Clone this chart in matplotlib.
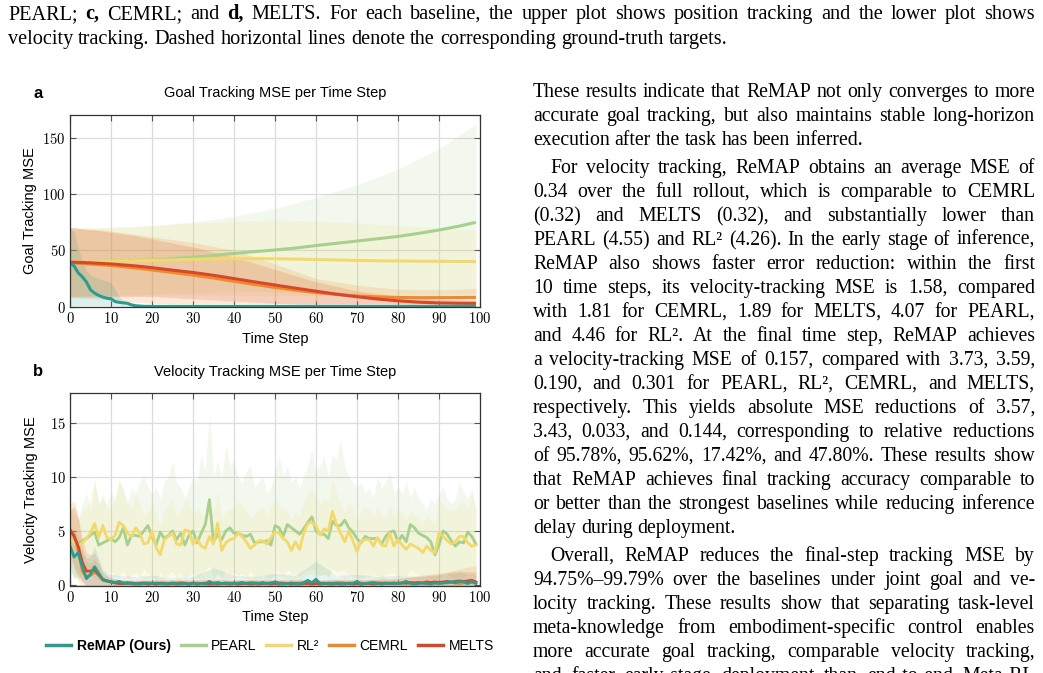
import matplotlib
matplotlib.use("Agg")
import matplotlib.pyplot as plt
from matplotlib.lines import Line2D
from matplotlib.ticker import FuncFormatter
from matplotlib.transforms import IdentityTransform

W, H = 1043, 673
SERIF = ["Liberation Serif", "DejaVu Serif"]
SANS = ["Liberation Sans", "DejaVu Sans"]
plt.rcParams["mathtext.fontset"] = "cm"

TEAL   = "#2a9d8f"
GREEN  = "#a8d08d"
YELLOW = "#f3d96b"
ORANGE = "#ef8a2a"
RED    = "#d8472b"

METHODS = ["ReMAP (Ours)", "PEARL", "RL\u00b2", "CEMRL", "MELTS"]

# ── Goal tracking (panel a) ──────────────────────────────────────────────────
GOAL_T = [0, 1, 2, 3, 4, 5, 6, 7, 8, 9, 10, 11, 12, 13, 14, 15, 16, 18, 20,
          25, 30, 35, 40, 45, 50, 55, 60, 65, 70, 75, 80, 85, 90, 95, 99]
GOAL_REMAP = [39, 36, 30, 26.5, 22, 15, 12, 10, 8.5, 7.5, 7, 4.5, 3.8, 3.4, 3.0, 1.6, 0.8, 0.3, 0.2,
              0.1, 0.1, 0.1, 0.1, 0.1, 0.1, 0.1, 0.1, 0.1, 0.1, 0.1, 0.1, 0.1, 0.1, 0.1, 0.1]
GOAL_PEARL = [39.5, 39.5, 39.6, 39.7, 39.8, 39.9, 40.0, 40.1, 40.2, 40.3, 40.4, 40.5, 40.6, 40.7, 40.8,
              40.9, 41.0, 41.2, 41.5, 42.5, 43.8, 45.5, 47.2, 48.8, 50.3, 52.0, 54.2, 56.2, 58.2, 60.2,
              62.3, 65.0, 68.0, 71.5, 74.8]
GOAL_RL2 = [39.5, 39.5, 39.6, 39.6, 39.7, 39.8, 39.9, 40.0, 40.1, 40.2, 40.3, 40.3, 40.4, 40.5, 40.6,
            40.6, 40.7, 40.8, 41.0, 41.5, 42.0, 42.4, 42.6, 42.6, 42.5, 42.2, 41.8, 41.4, 41.0, 40.7,
            40.5, 40.3, 40.2, 40.1, 40.0]
GOAL_CEMRL = [39.0, 38.8, 38.5, 38.3, 38.0, 37.8, 37.5, 37.3, 37.0, 36.8, 36.5, 36.2, 35.8, 35.4, 35.0,
              34.6, 34.2, 33.4, 32.5, 30.3, 28.0, 25.4, 22.5, 19.7, 17.0, 14.6, 12.5, 10.8, 9.5, 8.7,
              8.2, 8.0, 8.0, 8.1, 8.2]
GOAL_MELTS = [39.5, 39.4, 39.3, 39.2, 39.0, 38.9, 38.7, 38.5, 38.3, 38.1, 37.9, 37.6, 37.3, 37.0, 36.7,
              36.4, 36.1, 35.4, 34.6, 32.4, 30.3, 27.8, 24.9, 22.0, 19.2, 16.4, 13.7, 11.1, 8.8, 6.8,
              5.2, 4.0, 3.3, 3.0, 2.9]

GOAL_BAND_T = [0, 1, 2, 3, 4, 5, 6, 8, 10, 11, 12, 13, 14, 16, 20, 30, 40, 50, 60, 70, 80, 90, 99]
GOAL_REMAP_HI = [70, 66, 52, 40, 32, 28, 26, 24, 21, 15, 9, 5, 3, 1, 0.5, 0.3, 0.3, 0.3, 0.3, 0.3, 0.3, 0.3, 0.3]
GOAL_REMAP_LO = [1, 1, 1, 1, 1, 1, 1, 1, 1, 0.8, 0.5, 0.3, 0.2, 0, 0, 0, 0, 0, 0, 0, 0, 0, 0]
GOAL_PEARL_HI = [69, 69, 69, 69.5, 69.5, 69.5, 69.5, 70, 70, 70, 70.5, 70.5, 70.5, 71, 72, 75, 80, 87, 97,
                 108, 122, 140, 162]
GOAL_PEARL_LO = [10, 10, 10, 10, 10, 10, 10, 10, 10.5, 10.5, 10.5, 10.5, 10.5, 10.5, 11, 12, 14, 13, 11,
                 8, 3, 0, 0]
GOAL_RL2_HI = [70, 70, 70, 70, 70.2, 70.3, 70.4, 70.6, 70.8, 70.9, 71, 71.1, 71.2, 71.4, 72, 74, 76, 77,
               76, 74, 72, 70, 68]
GOAL_RL2_LO = [9, 9, 9, 9, 9.1, 9.2, 9.3, 9.4, 9.5, 9.5, 9.6, 9.6, 9.7, 9.8, 10, 10.5, 10, 9.5, 10,
               10.5, 11, 11.5, 12]
GOAL_CEMRL_HI = [70, 70, 69.5, 69, 69, 68.5, 68.5, 68, 67, 66.5, 66, 65.5, 65, 64, 62, 57, 50, 38, 25,
                 19, 15.5, 15, 16]
GOAL_CEMRL_LO = [8, 8, 7.8, 7.6, 7.4, 7.2, 7, 6.5, 6, 5.7, 5.4, 5, 4.7, 4, 3, 0.5, 0, 0, 0, 0, 0, 0, 0]
GOAL_MELTS_HI = [70, 70, 69.5, 69, 68.5, 68.3, 68, 67, 66, 65.5, 65, 64.5, 64, 63, 60, 53, 44, 33, 22,
                 14, 9, 6.5, 5.5]
GOAL_MELTS_LO = [8.5, 8.5, 8.6, 8.6, 8.7, 8.7, 8.8, 8.9, 9, 9, 9, 9, 9, 9, 9, 7, 5, 3, 1.5, 0.5, 0.3,
                 0.3, 0.3]

# ── Velocity tracking (panel b) ──────────────────────────────────────────────
VEL_T = list(range(100))
VEL_PEARL = [4.0, 3.9, 3.8, 4.1, 4.3, 4.6, 4.9, 3.7, 3.9, 4.1,
             4.3, 4.0, 4.4, 5.3, 3.7, 4.6, 4.6, 4.5, 5.0, 5.5,
             4.5, 3.7, 4.9, 4.3, 4.6, 5.0, 4.2, 4.8, 3.7, 4.6,
             5.0, 3.9, 4.8, 5.6, 7.9, 4.0, 4.7, 4.2, 5.0, 5.3,
             4.8, 4.8, 4.6, 4.5, 4.7, 3.9, 4.0, 4.0, 4.1, 3.7,
             5.5, 5.3, 4.5, 5.6, 5.3, 5.0, 4.7, 5.2, 5.8, 6.3,
             5.0, 4.7, 4.7, 4.3, 5.9, 5.5, 5.5, 6.0, 5.3, 4.9,
             4.3, 3.9, 4.5, 4.3, 4.3, 4.3, 3.8, 4.5, 4.9, 5.0,
             4.0, 4.6, 4.0, 5.6, 5.3, 4.8, 4.6, 4.4, 4.0, 2.8,
             3.7, 5.0, 4.7, 4.1, 3.6, 4.0, 3.9, 4.9, 4.5, 3.8]
VEL_RL2 = [4.2, 3.9, 3.6, 3.9, 4.3, 4.8, 5.7, 4.4, 5.5, 4.4,
           4.2, 4.6, 5.8, 5.5, 4.8, 4.5, 5.3, 4.8, 3.8, 3.9,
           5.0, 3.5, 2.8, 4.2, 4.5, 4.8, 3.8, 3.7, 5.1, 5.0,
           3.8, 4.3, 3.6, 3.4, 4.5, 3.8, 5.7, 3.2, 3.9, 4.2,
           4.3, 4.8, 4.5, 4.0, 3.4, 3.7, 4.1, 4.1, 3.8, 4.4,
           4.9, 4.8, 4.3, 4.0, 3.2, 4.0, 3.3, 4.8, 5.7, 5.8,
           5.5, 4.6, 5.2, 5.0, 6.8, 5.6, 4.8, 4.0, 5.0, 4.1,
           3.1, 4.1, 4.2, 4.2, 3.6, 4.4, 3.7, 3.6, 4.8, 3.6,
           4.2, 3.7, 3.3, 3.8, 3.6, 3.4, 3.0, 3.6, 3.2, 3.0,
           4.8, 4.5, 4.1, 3.8, 4.0, 4.5, 4.5, 3.9, 3.6, 3.7]
VEL_REMAP = [3.6, 2.6, 3.0, 1.7, 0.6, 1.0, 1.7, 1.1, 0.5, 0.4,
             0.3, 0.25, 0.35, 0.2, 0.15, 0.2, 0.15, 0.1, 0.15, 0.2,
             0.15, 0.2, 0.15, 0.1, 0.15, 0.2, 0.15, 0.1, 0.15, 0.1,
             0.15, 0.1, 0.15, 0.1, 0.35, 0.1, 0.25, 0.15, 0.2, 0.15,
             0.15, 0.2, 0.25, 0.15, 0.2, 0.2, 0.15, 0.25, 0.15, 0.2,
             0.3, 0.15, 0.1, 0.15, 0.2, 0.1, 0.15, 0.25, 0.45, 0.2,
             0.55, 0.15, 0.2, 0.1, 0.15, 0.2, 0.15, 0.1, 0.2, 0.15,
             0.35, 0.1, 0.15, 0.2, 0.25, 0.15, 0.1, 0.15, 0.2, 0.15,
             0.15, 0.2, 0.35, 0.15, 0.1, 0.15, 0.2, 0.15, 0.1, 0.2,
             0.15, 0.2, 0.25, 0.3, 0.2, 0.35, 0.3, 0.15, 0.35, 0.16]
VEL_CEMRL = [5.0, 4.7, 3.2, 1.3, 0.8, 0.9, 1.2, 0.9, 0.45, 0.35,
             0.3, 0.25, 0.2, 0.2, 0.25, 0.2, 0.15, 0.2, 0.25, 0.2,
             0.2, 0.15, 0.2, 0.2, 0.15, 0.2, 0.2, 0.25, 0.2, 0.15,
             0.2, 0.2, 0.15, 0.2, 0.2, 0.25, 0.2, 0.15, 0.2, 0.2,
             0.2, 0.15, 0.2, 0.2, 0.25, 0.2, 0.2, 0.15, 0.2, 0.2,
             0.2, 0.25, 0.2, 0.15, 0.2, 0.2, 0.2, 0.15, 0.2, 0.25,
             0.2, 0.2, 0.15, 0.2, 0.2, 0.2, 0.25, 0.2, 0.15, 0.2,
             0.2, 0.2, 0.15, 0.2, 0.2, 0.25, 0.2, 0.2, 0.15, 0.2,
             0.2, 0.2, 0.15, 0.2, 0.25, 0.2, 0.2, 0.15, 0.2, 0.2,
             0.15, 0.2, 0.2, 0.25, 0.2, 0.15, 0.2, 0.2, 0.25, 0.19]
VEL_MELTS = [5.1, 4.5, 3.6, 2.1, 1.3, 1.3, 1.4, 1.0, 0.55, 0.4,
             0.3, 0.2, 0.15, 0.15, 0.2, 0.15, 0.1, 0.15, 0.15, 0.1,
             0.15, 0.1, 0.15, 0.15, 0.1, 0.15, 0.1, 0.15, 0.15, 0.1,
             0.15, 0.1, 0.15, 0.15, 0.1, 0.15, 0.1, 0.15, 0.15, 0.1,
             0.15, 0.1, 0.15, 0.15, 0.1, 0.15, 0.1, 0.15, 0.15, 0.1,
             0.15, 0.1, 0.15, 0.15, 0.1, 0.15, 0.1, 0.15, 0.15, 0.1,
             0.15, 0.1, 0.15, 0.15, 0.1, 0.15, 0.1, 0.15, 0.15, 0.1,
             0.15, 0.1, 0.15, 0.15, 0.1, 0.15, 0.15, 0.2, 0.15, 0.2,
             0.15, 0.2, 0.2, 0.25, 0.2, 0.25, 0.2, 0.3, 0.25, 0.3,
             0.25, 0.3, 0.35, 0.3, 0.35, 0.4, 0.35, 0.4, 0.45, 0.3]

VEL_PEARL_HI = [7.0, 6.5, 6.0, 7.5, 8.5, 7.0, 9.5, 7.5, 8.0, 7.5,
                8.5, 8.0, 9.5, 9.0, 7.5, 9.0, 8.5, 9.5, 10.0, 9.0,
                8.5, 9.0, 8.0, 9.5, 10.0, 11.5, 9.5, 9.0, 8.0, 9.0,
                10.0, 9.5, 12.0, 10.5, 16.0, 10.0, 11.5, 10.0, 13.0, 11.0,
                11.5, 10.0, 9.5, 10.5, 11.0, 9.0, 9.5, 10.0, 8.5, 9.0,
                10.5, 12.0, 10.0, 11.0, 9.5, 10.0, 9.0, 10.0, 11.0, 12.5,
                10.5, 11.0, 12.0, 10.0, 12.0, 11.5, 13.5, 11.0, 10.0, 9.5,
                9.0, 9.5, 8.5, 9.0, 8.0, 10.0, 9.0, 9.5, 10.5, 8.5,
                9.0, 8.5, 9.5, 8.0, 9.0, 8.0, 7.5, 7.0, 8.0, 7.5,
                8.5, 9.0, 8.0, 7.5, 8.0, 9.5, 8.5, 8.0, 9.0, 7.0]
VEL_PEARL_LO = [1.0, 0.8, 0.6, 0.9, 1.2, 1.0, 0.7, 0.5, 0.8, 1.1,
                1.3, 0.9, 0.7, 1.4, 0.6, 1.0, 1.2, 0.8, 1.5, 1.1,
                0.9, 0.5, 1.2, 0.8, 1.0, 1.3, 0.7, 1.1, 0.5, 0.9,
                1.2, 0.6, 1.0, 1.4, 1.8, 0.7, 1.1, 0.8, 1.3, 1.0,
                1.2, 0.9, 1.1, 0.8, 1.3, 0.6, 0.8, 1.0, 0.7, 0.5,
                1.4, 1.2, 0.9, 1.5, 1.1, 1.0, 0.8, 1.2, 1.4, 1.6,
                1.0, 0.9, 1.1, 0.7, 1.5, 1.2, 1.3, 1.4, 1.0, 0.9,
                0.7, 0.6, 0.9, 0.8, 1.0, 0.9, 0.6, 1.0, 1.1, 1.2,
                0.7, 1.0, 0.8, 1.4, 1.2, 1.0, 0.9, 0.8, 0.7, 0.3,
                0.6, 1.1, 1.0, 0.8, 0.6, 0.8, 0.7, 1.1, 0.9, 0.7]
VEL_RL2_HI = [6.5, 7.5, 6.0, 6.8, 7.2, 8.0, 10.0, 7.5, 8.5, 7.0,
              7.2, 7.8, 10.0, 8.5, 7.8, 7.0, 8.5, 7.5, 6.5, 6.8,
              7.8, 6.5, 5.5, 7.0, 7.5, 7.8, 6.5, 6.8, 8.0, 7.8,
              6.5, 7.2, 6.5, 6.2, 7.5, 6.8, 8.8, 6.0, 6.8, 7.0,
              7.2, 7.8, 7.5, 6.8, 6.2, 6.5, 7.0, 7.2, 6.5, 7.2,
              7.8, 7.5, 7.0, 6.8, 6.0, 6.8, 6.2, 7.8, 8.5, 8.8,
              8.2, 7.5, 8.0, 7.8, 9.8, 8.5, 7.5, 6.8, 7.8, 7.0,
              5.8, 7.0, 7.2, 7.0, 6.5, 7.2, 6.5, 6.2, 7.5, 6.5,
              7.0, 6.5, 6.0, 6.8, 6.5, 6.2, 5.8, 6.5, 6.0, 5.8,
              7.8, 7.5, 7.0, 6.8, 7.0, 7.5, 7.8, 7.0, 8.5, 7.0]
VEL_RL2_LO = [1.5, 0.8, 0.6, 0.5, 0.8, 0.9, 1.2, 0.6, 1.0, 0.7,
              0.6, 0.8, 1.0, 0.9, 0.7, 0.6, 0.9, 0.8, 0.5, 0.6,
              0.8, 0.4, 0.3, 0.6, 0.7, 0.8, 0.5, 0.5, 0.9, 0.8,
              0.5, 0.7, 0.5, 0.4, 0.7, 0.5, 1.0, 0.4, 0.6, 0.6,
              0.7, 0.8, 0.7, 0.6, 0.4, 0.5, 0.6, 0.6, 0.5, 0.7,
              0.8, 0.8, 0.7, 0.6, 0.4, 0.6, 0.4, 0.8, 1.0, 1.0,
              0.8, 0.9, 1.0, 0.9, 1.2, 1.0, 0.8, 0.6, 0.8, 0.6,
              0.4, 0.6, 0.7, 0.7, 0.5, 0.7, 0.5, 0.5, 0.8, 0.5,
              0.6, 0.5, 0.4, 0.6, 0.5, 0.5, 0.4, 0.5, 0.4, 0.4,
              0.8, 0.7, 0.6, 0.6, 0.6, 0.7, 0.7, 0.6, 0.6, 0.5]

VEL_BAND_T = [0, 1, 2, 3, 4, 5, 6, 7, 8, 9, 10, 12, 15, 20, 25, 30, 35, 40, 45, 50,
              55, 60, 65, 70, 75, 80, 85, 90, 95, 99]
VEL_REMAP_HI = [5.5, 5.0, 4.5, 3.0, 2.5, 2.6, 3.6, 2.4, 1.4, 1.1, 1.0, 0.9, 0.8, 0.9, 0.7,
                0.8, 1.6, 0.9, 0.8, 1.1, 0.9, 2.2, 0.9, 1.0, 0.8, 0.9, 0.8, 0.9, 1.2, 0.9]
VEL_REMAP_LO = [1.8, 0.5, 1.2, 0.4, 0, 0, 0, 0, 0, 0, 0, 0, 0, 0, 0,
                0, 0, 0, 0, 0, 0, 0, 0, 0, 0, 0, 0, 0, 0, 0]
VEL_CEMRL_HI = [7.5, 7.8, 6.5, 3.5, 2.2, 2.0, 2.4, 1.8, 1.0, 0.8, 0.6, 0.5, 0.45, 0.5, 0.5,
                0.5, 0.55, 0.5, 0.5, 0.55, 0.5, 0.5, 0.55, 0.5, 0.55, 0.6, 0.8, 1.0, 1.5, 1.8]
VEL_CEMRL_LO = [2.5, 1.6, 0.3, 0, 0, 0, 0, 0, 0, 0, 0, 0, 0, 0, 0,
                0, 0, 0, 0, 0, 0, 0, 0, 0, 0, 0, 0, 0, 0, 0]
VEL_MELTS_HI = [7.0, 7.2, 6.2, 4.3, 3.0, 2.8, 3.0, 2.2, 1.2, 0.9, 0.7, 0.5, 0.45, 0.45, 0.5,
                0.45, 0.5, 0.45, 0.5, 0.45, 0.5, 0.45, 0.5, 0.5, 0.55, 0.6, 0.9, 1.1, 1.3, 1.2]
VEL_MELTS_LO = [3.0, 1.8, 0.8, 0.3, 0, 0, 0, 0, 0, 0, 0, 0, 0, 0, 0,
                0, 0, 0, 0, 0, 0, 0, 0, 0, 0, 0, 0, 0, 0, 0]

# ── Page text ────────────────────────────────────────────────────────────────
CAPTION = [
    ("PEARL; *c, CEMRL; and *d, MELTS. For each baseline, the upper plot shows position tracking and the lower plot shows", True),
    ("velocity tracking. Dashed horizontal lines denote the corresponding ground-truth targets.", False),
]
BODY = [
    ("These results indicate that ReMAP not only converges to more", False, True),
    ("accurate goal tracking, but also maintains stable long-horizon", False, True),
    ("execution after the task has been inferred.", False, False),
    ("For velocity tracking, ReMAP obtains an average MSE of", True, True),
    ("0.34 over the full rollout, which is comparable to CEMRL", False, True),
    ("(0.32) and MELTS (0.32), and substantially lower than", False, True),
    ("PEARL (4.55) and RL\u00b2 (4.26). In the early stage of inference,", False, True),
    ("ReMAP also shows faster error reduction: within the first", False, True),
    ("10 time steps, its velocity-tracking MSE is 1.58, compared", False, True),
    ("with 1.81 for CEMRL, 1.89 for MELTS, 4.07 for PEARL,", False, True),
    ("and 4.46 for RL\u00b2. At the final time step, ReMAP achieves", False, True),
    ("a velocity-tracking MSE of 0.157, compared with 3.73, 3.59,", False, True),
    ("0.190, and 0.301 for PEARL, RL\u00b2, CEMRL, and MELTS,", False, True),
    ("respectively. This yields absolute MSE reductions of 3.57,", False, True),
    ("3.43, 0.033, and 0.144, corresponding to relative reductions", False, True),
    ("of 95.78%, 95.62%, 17.42%, and 47.80%. These results show", False, True),
    ("that ReMAP achieves final tracking accuracy comparable to", False, True),
    ("or better than the strongest baselines while reducing inference", False, True),
    ("delay during deployment.", False, False),
    ("Overall, ReMAP reduces the final-step tracking MSE by", True, True),
    ("94.75%\u201399.79% over the baselines under joint goal and ve-", False, True),
    ("locity tracking. These results show that separating task-level", False, True),
    ("meta-knowledge from embodiment-specific control enables", False, True),
    ("more accurate goal tracking, comparable velocity tracking,", False, True),
    ("and faster early-stage deployment than end-to-end Meta-RL", False, True),
]
BODY_BASELINES = [97, 121, 145, 173, 197, 221, 245, 269, 293, 317, 341, 365, 389,
                  413, 437, 461, 485, 509, 533, 561, 585, 609, 633, 657, 681]


def style_axes(ax, ylim, yticks):
    ax.set_xlim(0, 100)
    ax.set_ylim(*ylim)
    ax.set_xticks(range(0, 101, 10))
    ax.set_yticks(yticks)
    ax.grid(True, color="#dcdcdc", lw=0.9)
    ax.set_axisbelow(True)
    ax.tick_params(direction="in", top=True, right=True, length=4, width=0.8,
                   color="#555555", labelsize=10.5, pad=3)
    fmt = FuncFormatter(lambda v, p: f"${v:g}$")
    ax.xaxis.set_major_formatter(fmt)
    ax.yaxis.set_major_formatter(fmt)
    for s in ax.spines.values():
        s.set_color("#333333")
        s.set_linewidth(0.9)
    ax.set_xlabel("Time Step", family=SANS, fontsize=10.5)
    ax.xaxis.set_label_coords(0.5, -0.128)


def draw_words(fig, renderer, text, x0, x1, baseline, size, justify):
    words = text.split(" ")
    objs = []
    for w in words:
        bold = w.startswith("*")
        t = fig.text(0, 0, w.lstrip("*"), fontsize=size, family=SERIF,
                     weight="bold" if bold else "normal",
                     transform=IdentityTransform(), va="baseline", ha="left")
        objs.append(t)
    widths = [t.get_window_extent(renderer).width for t in objs]
    space = size * 100 / 72 * 0.25
    if justify and len(objs) > 1:
        space = (x1 - x0 - sum(widths)) / (len(objs) - 1)
    x = x0
    for t, wd in zip(objs, widths):
        t.set_position((x, H - baseline))
        x += wd + space


fig = plt.figure(figsize=(W / 100, H / 100), dpi=100)
fig.patch.set_facecolor("white")
renderer = fig.canvas.get_renderer()

# panel a
ax_a = fig.add_axes([70 / W, 1 - 307 / H, 410 / W, 192 / H])
goal = [
    (GOAL_PEARL, GOAL_PEARL_LO, GOAL_PEARL_HI, GREEN, 0.14),
    (GOAL_RL2, GOAL_RL2_LO, GOAL_RL2_HI, YELLOW, 0.14),
    (GOAL_CEMRL, GOAL_CEMRL_LO, GOAL_CEMRL_HI, ORANGE, 0.18),
    (GOAL_MELTS, GOAL_MELTS_LO, GOAL_MELTS_HI, RED, 0.16),
    (GOAL_REMAP, GOAL_REMAP_LO, GOAL_REMAP_HI, TEAL, 0.16),
]
for _, lo, hi, c, a in goal:
    ax_a.fill_between(GOAL_BAND_T, lo, hi, color=c, alpha=a, lw=0)
for mean, _, _, c, _ in goal:
    ax_a.plot(GOAL_T, mean, color=c, lw=2.2, solid_capstyle="butt")
style_axes(ax_a, (-0.3, 170), [0, 50, 100, 150])
ax_a.set_ylabel("Goal Tracking MSE", family=SANS, fontsize=10.5)
ax_a.yaxis.set_label_coords(-0.08, 0.5)
ax_a.text(0.5, 1.115, "Goal Tracking MSE per Time Step", transform=ax_a.transAxes,
          ha="center", va="center", family=SANS, fontsize=10.5)

# panel b
ax_b = fig.add_axes([70 / W, 1 - 585.5 / H, 410 / W, 192.2 / H])
ax_b.fill_between(VEL_T, VEL_PEARL_LO, VEL_PEARL_HI, color=GREEN, alpha=0.14, lw=0)
ax_b.fill_between(VEL_T, VEL_RL2_LO, VEL_RL2_HI, color=YELLOW, alpha=0.14, lw=0)
ax_b.fill_between(VEL_BAND_T, VEL_CEMRL_LO, VEL_CEMRL_HI, color=ORANGE, alpha=0.16, lw=0)
ax_b.fill_between(VEL_BAND_T, VEL_MELTS_LO, VEL_MELTS_HI, color=RED, alpha=0.14, lw=0)
ax_b.fill_between(VEL_BAND_T, VEL_REMAP_LO, VEL_REMAP_HI, color=TEAL, alpha=0.12, lw=0)
for series, c in [(VEL_PEARL, GREEN), (VEL_RL2, YELLOW), (VEL_CEMRL, ORANGE),
                  (VEL_MELTS, RED), (VEL_REMAP, TEAL)]:
    ax_b.plot(VEL_T, series, color=c, lw=2.0)
style_axes(ax_b, (-0.03, 17.7), [0, 5, 10, 15])
ax_b.set_ylabel("Velocity Tracking MSE", family=SANS, fontsize=10.5)
ax_b.yaxis.set_label_coords(-0.078, 0.5)
ax_b.text(0.5, 1.113, "Velocity Tracking MSE per Time Step", transform=ax_b.transAxes,
          ha="center", va="center", family=SANS, fontsize=10.5)

fig.text(38 / W, 1 - 94 / H, "a", family=SANS, weight="bold", fontsize=12, ha="center", va="center")
fig.text(38 / W, 1 - 372 / H, "b", family=SANS, weight="bold", fontsize=12, ha="center", va="center")

handles = [Line2D([], [], color=c, lw=2.5) for c in [TEAL, GREEN, YELLOW, ORANGE, RED]]
leg = fig.legend(handles, METHODS, loc="center", bbox_to_anchor=(270 / W, 1 - 646 / H),
                 ncol=5, frameon=False, prop={"family": SANS, "size": 10},
                 handlelength=1.8, handletextpad=0.4, columnspacing=0.7)
leg.get_texts()[0].set_fontweight("bold")

# page text
for (line, justify), yb in zip(CAPTION, [19, 44]):
    draw_words(fig, renderer, line, 8, 1035, yb, 14.6, justify)
for (line, indent, justify), yb in zip(BODY, BODY_BASELINES):
    draw_words(fig, renderer, line, 550 if indent else 533, 1035, yb, 14.2, justify)

fig.savefig("out.png", dpi=100, facecolor="white")
